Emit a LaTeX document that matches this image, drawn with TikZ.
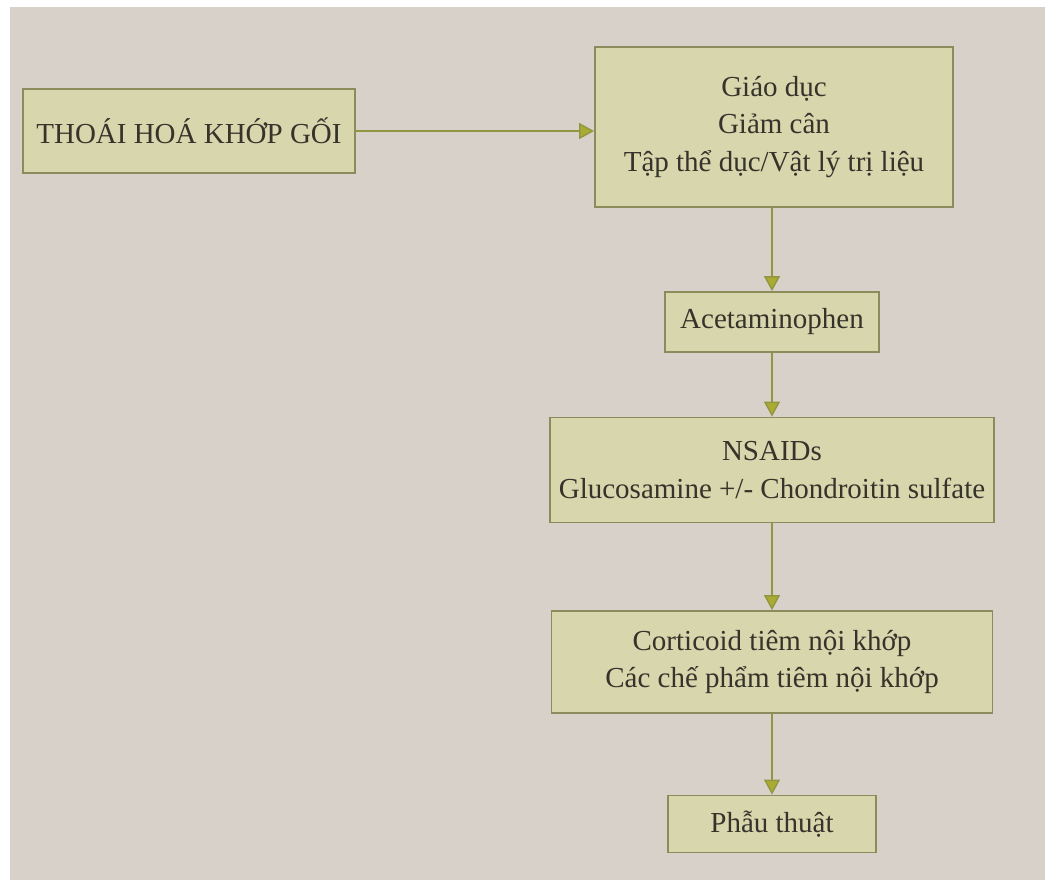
\documentclass[tikz,border=0pt]{standalone}
\usepackage{fontspec}
\setmainfont{Liberation Serif}
\usetikzlibrary{arrows.meta}

\definecolor{paper}{HTML}{D8D1CA}
\definecolor{boxfill}{HTML}{D7D6AD}
\definecolor{boxline}{HTML}{8C8B5C}
\definecolor{flowline}{HTML}{939640}
\definecolor{ink}{HTML}{35332A}

\tikzset{
  stepbox/.style={draw=boxline, line width=1.8pt, fill=boxfill, text=ink,
    align=center, inner sep=0pt,
    font=\fontsize{29}{37.5}\selectfont},
  flow/.style={draw=flowline, line width=1.4pt,
    -{Triangle[length=15pt,width=16pt,fill=flowline!80!yellow]}},
}

\begin{document}
\begin{tikzpicture}[x=1pt,y=-1pt]
  % page and its light margins
  \fill[white] (0,0) rectangle (1045,880);
  \fill[paper] (10,7) rectangle (1045,880);
  \useasboundingbox (0,0) rectangle (1045,880);

  \node[stepbox, minimum width=332pt, minimum height=84pt] (oa) at (189,131)
    {THOÁI HOÁ KHỚP GỐI};
  \node[stepbox, minimum width=358pt, minimum height=160pt] (life) at (774,127)
    {Giáo dục\\Giảm cân\\Tập thể dục/Vật lý trị liệu};
  \node[stepbox, minimum width=214pt, minimum height=60pt] (acet) at (772,322)
    {Acetaminophen};
  \node[stepbox, minimum width=444pt, minimum height=105pt] (nsaid) at (772,470)
    {NSAIDs\\Glucosamine +/- Chondroitin sulfate};
  \node[stepbox, minimum width=441pt, minimum height=102pt] (inj) at (772,662)
    {Corticoid tiêm nội khớp\\Các chế phẩm tiêm nội khớp};
  \node[stepbox, minimum width=208pt, minimum height=57pt] (surg) at (772,824)
    {Phẫu thuật};

  \draw[flow] (oa.east) -- (oa.east -| life.west);
  \draw[flow] (life.south -| acet.north) -- (acet.north);
  \draw[flow] (acet) -- (nsaid);
  \draw[flow] (nsaid) -- (inj);
  \draw[flow] (inj) -- (surg);
\end{tikzpicture}
\end{document}
